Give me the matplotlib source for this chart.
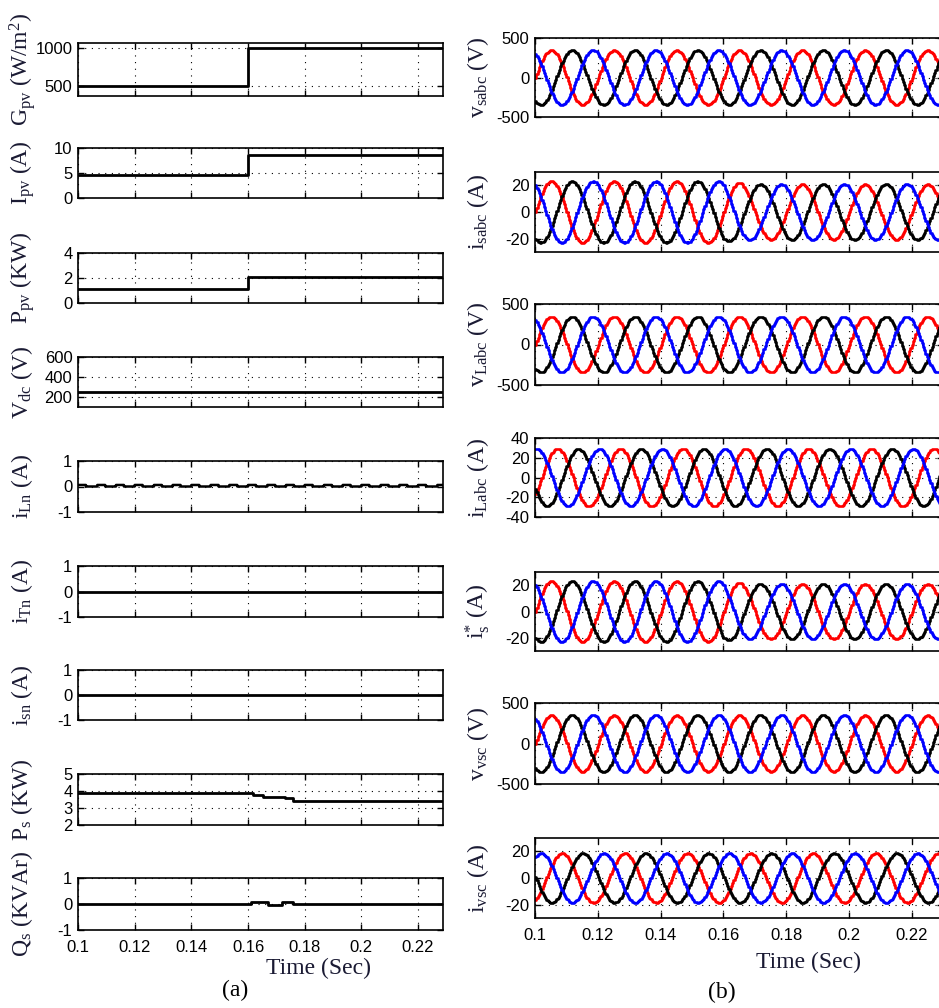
import numpy as np
import matplotlib.pyplot as plt

plt.rcParams['font.family'] = 'Liberation Sans'
plt.rcParams['mathtext.default'] = 'regular'
plt.rcParams['axes.unicode_minus'] = False

# time axis ends
t0 = 0.1
t_end_a = 0.2288
t_end_b = 0.2300
xticks = [0.1, 0.12, 0.14, 0.16, 0.18, 0.2, 0.22]
xtick_labels = ['0.1', '0.12', '0.14', '0.16', '0.18', '0.2', '0.22']

# (a) step signals: breakpoint times and values
gpv_t = [0.1, 0.16]
gpv = [500, 1000]
ipv_t = [0.1, 0.16]
ipv = [4.5, 8.5]
ppv_t = [0.1, 0.16]
ppv = [1.1, 2.05]
vdc_t = [0.1]
vdc = [250]
itn_t = [0.1]
itn = [0.0]
isn_t = [0.1]
isn = [0.0]
ps_t = [0.1, 0.1618, 0.1654, 0.1731, 0.176]
ps = [3.9, 3.76, 3.64, 3.56, 3.44]
qs_t = [0.1, 0.161, 0.167, 0.172, 0.176]
qs = [0.0, 0.06, -0.03, 0.06, 0.0]
# iLn: small 150 Hz bumps on zero
iln_bump = 0.06
iln_freq = 150
iln_duty = 0.42

# (b) three-phase signals, 50 Hz
f_grid = 50
phase_colors = ['red', 'black', 'blue']
phase_shift = [0, -120, 120]
# amplitude steps (time, amplitude) and phase lag in degrees
vs_amp_t, vs_amp = [0.1], [345]
is_amp_t, is_amp = [0.1, 0.16, 0.166], [23, 21.8, 20.8]
vl_amp_t, vl_amp = [0.1], [345]
il_amp_t, il_amp = [0.1], [29]
isref_amp_t, isref_amp = [0.1, 0.16, 0.166], [23, 21.8, 20.8]
vvsc_amp_t, vvsc_amp = [0.1], [350]
ivsc_amp_t, ivsc_amp = [0.1], [18.5]
lag_deg = {'vs': 0, 'is': 0, 'vl': 0, 'il': 36, 'isref': 0, 'vvsc': 0, 'ivsc': 62}

fig = plt.figure(figsize=(9.39, 10.08), dpi=100)
W, H = 939.0, 1008.0

label_color = '#1a1a33'
label_font = dict(family='Liberation Serif', size=17, color=label_color)


def style_axes(ax, xmax, bottom):
    ax.set_xlim(t0, xmax)
    ax.set_xticks(xticks)
    if bottom:
        ax.set_xticklabels(xtick_labels)
    else:
        ax.set_xticklabels([])
    ax.tick_params(direction='in', top=True, right=True, length=4, width=1,
                   labelsize=12, pad=4)
    ax.tick_params(axis='x', pad=7)
    ax.grid(True, linestyle=(0, (1, 5)), color='k', linewidth=0.8)
    ax.set_axisbelow(True)
    for s in ax.spines.values():
        s.set_linewidth(1.2)


# ---------- column (a) ----------
left_px = 78
left_w = 365
rows_a = [(43, 96), (148, 198), (253, 303), (357, 407), (461, 512),
          (566, 617), (670, 720), (774, 825), (878, 930)]

panels_a = [
    (gpv_t, gpv, (370, 1065), [500, 1000], r'G$_{pv}$ (W/m$^{2}$)'),
    (ipv_t, ipv, (0, 10), [0, 5, 10], r'I$_{pv}$ (A)'),
    (ppv_t, ppv, (0, 4), [0, 2, 4], r'P$_{pv}$ (KW)'),
    (vdc_t, vdc, (100, 600), [200, 400, 600], r'V$_{dc}$ (V)'),
    (None, None, (-1, 1), [-1, 0, 1], r'i$_{Ln}$ (A)'),
    (itn_t, itn, (-1, 1), [-1, 0, 1], r'i$_{Tn}$ (A)'),
    (isn_t, isn, (-1, 1), [-1, 0, 1], r'i$_{sn}$ (A)'),
    (ps_t, ps, (2, 5), [2, 3, 4, 5], r'P$_{s}$ (KW)'),
    (qs_t, qs, (-1, 1), [-1, 0, 1], r'Q$_{s}$ (KVAr)'),
]

for k, (bt, bv, ylim, yt, lab) in enumerate(panels_a):
    top, bot = rows_a[k]
    ax = fig.add_axes([left_px / W, 1 - bot / H, left_w / W, (bot - top) / H])
    if bt is None:
        t = np.arange(t0, t_end_a, 0.0002)
        y = iln_bump * ((((t - t0) * iln_freq) % 1.0) < iln_duty)
        ax.plot(t, y, color='k', lw=1.8, drawstyle='steps-post')
    else:
        ax.plot(list(bt) + [t_end_a], list(bv) + [bv[-1]], color='k',
                lw=2.0, drawstyle='steps-post')
    ax.set_ylim(*ylim)
    ax.set_yticks(yt)
    ax.set_yticklabels([str(v) for v in yt])
    style_axes(ax, t_end_a, k == len(panels_a) - 1)
    ax.set_ylabel(lab, va='center', **label_font)
    ax.yaxis.set_label_coords(-0.153, 0.5)

fig.text(318 / W, 1 - 968 / H, 'Time (Sec)', ha='center', va='center', **label_font)
fig.text(235 / W, 1 - 990 / H, '(a)', ha='center', va='center',
         family='Liberation Serif', size=17, color='k')

# ---------- column (b) ----------
right_px = 535
right_w = 408
rows_b = [(38, 117), (172, 252), (304, 385), (438, 517), (572, 651),
          (703, 784), (838, 918)]

panels_b = [
    (vs_amp_t, vs_amp, lag_deg['vs'], (-500, 500), [-500, 0, 500], r'v$_{sabc}$ (V)'),
    (is_amp_t, is_amp, lag_deg['is'], (-30, 30), [-20, 0, 20], r'i$_{sabc}$ (A)'),
    (vl_amp_t, vl_amp, lag_deg['vl'], (-500, 500), [-500, 0, 500], r'v$_{Labc}$ (V)'),
    (il_amp_t, il_amp, lag_deg['il'], (-40, 40), [-40, -20, 0, 20, 40], r'i$_{Labc}$ (A)'),
    (isref_amp_t, isref_amp, lag_deg['isref'], (-30, 30), [-20, 0, 20], r'i$_{s}^{*}$ (A)'),
    (vvsc_amp_t, vvsc_amp, lag_deg['vvsc'], (-500, 500), [-500, 0, 500], r'v$_{vsc}$ (V)'),
    (ivsc_amp_t, ivsc_amp, lag_deg['ivsc'], (-30, 30), [-20, 0, 20], r'i$_{vsc}$ (A)'),
]

t = np.arange(t0, t_end_b + 0.0004, 0.0004)
for k, (at, av, lag, ylim, yt, lab) in enumerate(panels_b):
    top, bot = rows_b[k]
    ax = fig.add_axes([right_px / W, 1 - bot / H, right_w / W, (bot - top) / H])
    idx = np.searchsorted(at, t, side='right') - 1
    amp = np.array(av)[idx]
    for c, sh in zip(phase_colors, phase_shift):
        ang = 2 * np.pi * f_grid * (t - t0) + np.deg2rad(sh - lag)
        ax.plot(t, amp * np.sin(ang), color=c, lw=1.9, drawstyle='steps-post')
    ax.set_ylim(*ylim)
    ax.set_yticks(yt)
    ax.set_yticklabels([str(v) for v in yt])
    style_axes(ax, t_end_b, k == len(panels_b) - 1)
    ax.set_ylabel(lab, va='center', **label_font)
    ax.yaxis.set_label_coords(-0.14, 0.5)

fig.text(809 / W, 1 - 962 / H, 'Time (Sec)', ha='center', va='center', **label_font)
fig.text(722 / W, 1 - 992 / H, '(b)', ha='center', va='center',
         family='Liberation Serif', size=17, color='k')

fig.savefig('out.png', dpi=100)
